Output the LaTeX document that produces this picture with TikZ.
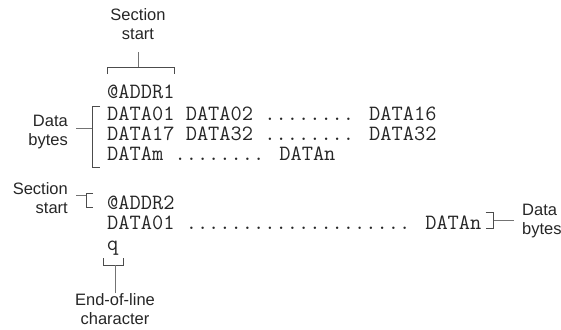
\documentclass[tikz,border=0pt]{standalone}
\usepackage{fontspec}
\setmainfont{Liberation Sans}
\usetikzlibrary{positioning, calc}

\begin{document}
\begin{tikzpicture}[x=1pt, y=-1pt,
    code/.style={font=\ttfamily\fontsize{21.8}{22}\selectfont, inner sep=0pt, anchor=base west,
      text height=12pt, text depth=2pt, text=black!85},
    note/.style={font=\fontsize{16.5}{19.5}\selectfont, inner sep=0pt, align=center, text=black!85},
    brk/.style={draw=black!70, line width=0.9pt},
    stem/.style={draw=black!55, line width=0.9pt}]
  \useasboundingbox (0,0) rectangle (561,329);

  % First section
  \node[code] (addr1) at (107,98) {@ADDR1};
  \node[code] (row1) at (107,120) {DATA01 DATA02 ........ DATA16};
  \node[code] (row2) at (107,140) {DATA17 DATA32 ........ DATA32};
  \node[code] (row3) at (107,160) {DATAm ........ DATAn};

  % Second section
  \node[code] (addr2) at (107,209) {@ADDR2};
  \node[code] (row4) at (107,229) {DATA01 .................... DATAn};
  \node[code] (eol) at (107,250) {q};

  % Labels
  \node[note] (secA) at (138,24) {Section\\start};
  \node[note, align=right, anchor=east] (bytesA) at (68,132) {Data\\bytes};
  \node[note, align=right, anchor=east] (secB) at (68,198) {Section\\start};
  \node[note, align=left, anchor=west] (bytesB) at (522,221) {Data\\bytes};
  \node[note] (eolnote) at (115,309) {End-of-line\\character};

  % Bracket over @ADDR1
  \coordinate (topA) at (138,67);
  \draw[brk] ($(addr1.base west)+(0,-24)$) -- ++(0,-7) -- ($(addr1.base east)+(0,-31)$) -- ++(0,7);
  \draw[stem] (secA.south |- 0,52) -- (topA);

  % Bracket along the data rows
  \coordinate (midA) at (92,128);
  \draw[brk] ($(row1.base west)+(-7,-14)$) -- ++(-8,0) |- ($(row3.base west)+(-7,7)$);
  \draw[stem] (bytesA.east |- midA) ++(8,0) -- (midA);

  % Bracket at @ADDR2
  \coordinate (midB) at (86,195);
  \draw[brk] ($(addr2.base west)+(-14,-16)$) -- ++(-7,0) -- ++(0,14) -- ++(7,0);
  \draw[stem] (secB.east |- midB) ++(8,0) -- (midB);

  % Bracket after DATAn
  \coordinate (midC) at ($(row4.base east)+(12,-9)$);
  \draw[brk] ($(row4.base east)+(4,-17)$) -- ++(8,0) -- ++(0,16) -- ++(-8,0);
  \draw[stem] (midC) -- ($(bytesB.west |- midC)+(-8,0)$);

  % Bracket below q
  \coordinate (midD) at (115,265);
  \draw[brk] ($(eol.base west)+(-4,8)$) -- ++(0,7) -- ++(20,0) -- ++(0,-7);
  \draw[stem] (midD) -- (eolnote.north);
\end{tikzpicture}
\end{document}
